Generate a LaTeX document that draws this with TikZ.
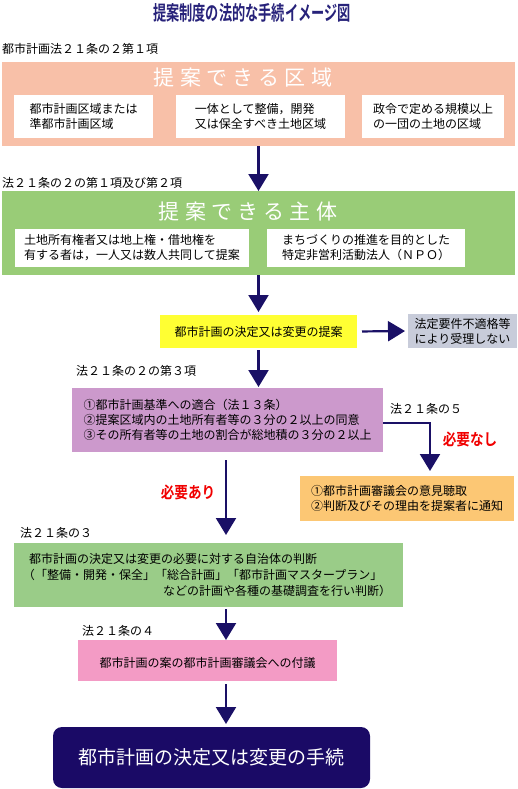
\documentclass[tikz,border=0pt]{standalone}
\usepackage{fontspec}
\usepackage{graphicx}
\usetikzlibrary{arrows.meta}
\newfontfamily\jp{Noto Sans CJK JP}
\newfontfamily\jpb{Noto Sans CJK JP Bold}
\newfontfamily\jpwide[LetterSpace=25]{Noto Sans CJK JP}
\definecolor{salmon}{HTML}{F8C0A8}
\definecolor{grn}{HTML}{99CC77}
\definecolor{grn2}{HTML}{9ACC88}
\definecolor{yel}{HTML}{FFFF33}
\definecolor{gry}{HTML}{C8CCDA}
\definecolor{purp}{HTML}{CC99CC}
\definecolor{orng}{HTML}{FCC774}
\definecolor{pnk}{HTML}{F39BC5}
\definecolor{navy}{HTML}{1A0A66}
\definecolor{arrowc}{HTML}{1A1066}
\definecolor{titlec}{HTML}{27227A}
\definecolor{redc}{HTML}{F00000}
\begin{document}
\begin{tikzpicture}[x=1pt,y=-1pt,
  every node/.style={inner sep=0pt, outer sep=0pt},
  body/.style={font=\jp\fontsize{12}{15}\selectfont, text=black},
  lbl/.style={body, anchor=west},
  box/.style={rectangle, body, align=left},
  head/.style={font=\jpwide\fontsize{21}{21}\selectfont, text=white},
  redtxt/.style={font=\jpb\fontsize{16}{16}\selectfont, text=redc},
  arr/.style={draw=arrowc, line width=2.2pt, -{Triangle[width=20pt,length=17pt]}}]
\useasboundingbox (0,0) rectangle (517,789);

% title
\node[font=\jpb\fontsize{20}{20}\selectfont, text=titlec] (title) at (252,13)
  {\scalebox{0.66}[1]{提案制度の法的な手続イメージ図}};

% section 1
\node[lbl] (l1) at (2,49) {都市計画法２１条の２第１項};
\node[fill=salmon, minimum width=513pt, minimum height=84pt] (zone) at (258.5,104) {};
\node[head] (zoneT) at (243,78) {提案できる区域};
\node[box, fill=white, minimum width=139pt, minimum height=43pt] (z1) at (83.5,116.5) {都市計画区域または\\準都市計画区域};
\node[box, fill=white, minimum width=169pt, minimum height=43pt] (z2) at (260.5,116.5) {一体として整備，開発\\又は保全すべき土地区域};
\node[box, fill=white, minimum width=142pt, minimum height=43pt] (z3) at (433,116.5) {政令で定める規模以上\\の一団の土地の区域};

% section 2
\node[lbl] (l2) at (2,183) {法２１条の２の第１項及び第２項};
\node[fill=grn, minimum width=513pt, minimum height=84pt] (subj) at (258.5,233) {};
\node[head] (subjT) at (248,212) {提案できる主体};
\node[box, fill=white, minimum width=234pt, minimum height=38pt] (s1) at (132,248) {土地所有権者又は地上権・借地権を\\有する者は，一人又は数人共同して提案};
\node[box, fill=white, minimum width=198pt, minimum height=38pt] (s2) at (366,248) {まちづくりの推進を目的とした\\特定非営利活動法人（ＮＰＯ）};

% proposal
\node[box, fill=yel, minimum width=197pt, minimum height=33pt] (prop) at (258.5,331.5) {都市計画の決定又は変更の提案};
\node[box, fill=gry, minimum width=109pt, minimum height=34pt] (rej) at (462.5,331) {法定要件不適格等\\により受理しない};

% requirements
\node[lbl] (l3) at (76,371) {法２１条の２の第３項};
\node[box, fill=purp, minimum width=311pt, minimum height=64pt] (req) at (227.5,420) {①都市計画基準への適合（法１３条）\\②提案区域内の土地所有者等の３分の２以上の同意\\③その所有者等の土地の割合が総地積の３分の２以上};
\node[lbl] (l5) at (390,409) {法２１条の５};
\node[redtxt] (nashi) at (470,439) {\scalebox{0.85}[1]{必要なし}};
\node[box, fill=orng, minimum width=214pt, minimum height=45pt] (notice) at (407,498.5) {①都市計画審議会の意見聴取\\②判断及びその理由を提案者に通知};
\node[redtxt] (ari) at (188,492) {\scalebox{0.85}[1]{必要あり}};

% judgement
\node[lbl] (l6) at (20,533) {法２１条の３};
\node[fill=grn2, minimum width=389pt, minimum height=64pt] (judge) at (208.5,575) {};
\node[lbl] (j1) at (29,559) {都市計画の決定又は変更の必要に対する自治体の判断};
\node[lbl] (j2) at (23,575) {（「整備・開発・保全」「総合計画」「都市計画マスタープラン」};
\node[body, anchor=east] (j3) at (391,591) {などの計画や各種の基礎調査を行い判断）};

% council
\node[lbl] (l7) at (82,631) {法２１条の４};
\node[box, fill=pnk, minimum width=259pt, minimum height=41pt] (council) at (207.5,660.5) {};
\node[body] (councilT) at (207.5,663) {都市計画の案の都市計画審議会への付議};

% final
\node[fill=navy, rounded corners=9pt, minimum width=317pt, minimum height=61pt,
  font=\jp\fontsize{19}{19}\selectfont, text=white] (final) at (211.5,757.5) {都市計画の決定又は変更の手続};

% arrows
\coordinate (ax) at (226,0);
\coordinate (bx) at (430,0);
\draw[arr] (zone.south -| prop) -- (subj.north -| prop);
\draw[arr, shorten >=3pt] (subj.south -| prop) -- (prop.north);
\draw[arr, shorten <=5pt, shorten >=3pt] (prop.east) -- (rej.west);
\draw[arr, shorten <=2pt, shorten >=1pt] (prop.south) -- (req.north -| prop);
\draw[arr, shorten >=5pt] ([yshift=-3pt]req.east) -| (notice.north -| bx);
\draw[arr, shorten <=8pt, shorten >=8pt] (req.south -| ax) -- (judge.north -| ax);
\draw[arr, shorten <=2pt] (judge.south -| ax) -- (council.north -| ax);
\draw[arr, shorten <=3pt, shorten >=3pt] (council.south -| ax) -- (final.north -| ax);
\end{tikzpicture}
\end{document}
